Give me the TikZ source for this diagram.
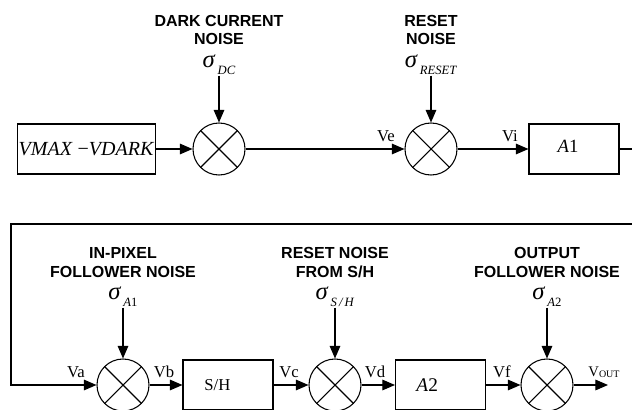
\documentclass[tikz,border=0pt]{standalone}
\usepackage{fontspec}
\setmainfont{Liberation Serif}
\setsansfont{Liberation Sans}
\usetikzlibrary{arrows.meta, positioning}

\begin{document}
\begin{tikzpicture}[x=0.75pt, y=-0.75pt, line width=0.8pt, font=\fontsize{12.5}{14}\selectfont,
    mixer/.style={draw, circle, minimum size=39pt, inner sep=0pt,
        path picture={\draw (path picture bounding box.north west) -- (path picture bounding box.south east)
            (path picture bounding box.north east) -- (path picture bounding box.south west);}},
    blk/.style={draw, minimum width=67.5pt, minimum height=37.5pt, inner sep=1pt},
    noise/.style={font=\sffamily\bfseries\fontsize{12}{14.2}\selectfont, align=center, inner sep=0pt, anchor=base},
    sig/.style={inner sep=0pt, anchor=base},
    arr/.style={-{Triangle[length=9.5pt, width=8pt]}}]
        \useasboundingbox (0,0) rectangle (632,410);
        \foreach \n/\x/\y in {mdc/219/149, mrst/431/149, mpix/123/385, msh/335/385, mout/547/385} {
            \node[mixer] (\n) at (\x,\y) {};
        }
        \foreach \n/\h/\t/\s in {mdc/61/{DARK CURRENT\\NOISE}/{\textit{DC}}, mrst/61/{RESET\\NOISE}/{\textit{RESET}},
                mpix/64/{IN-PIXEL\\FOLLOWER NOISE}/{\textit{A}1}, msh/64/{RESET NOISE\\FROM S/H}/{\textit{S\,/\,H}},
                mout/64/{OUTPUT\\FOLLOWER NOISE}/{\textit{A}2}} {
            \node[sig] (\n-s) at ([yshift=\h pt]\n.center) {{\fontsize{18.5}{19}\selectfont\textit{σ}}\hspace{1.5pt}\raisebox{-5pt}{\fontsize{9.5}{10}\selectfont\s}};
            \node[noise] (\n-t) at ([yshift={(\h+17)*1pt}]\n.center) {\t};
            \draw[arr] (\n-s.base -| \n) ++(0,8) -- (\n.north);
        }
        \node[blk, minimum width=104pt] (vin) at (86.5,149) {\fontsize{15}{17}\selectfont\textit{VMAX} −\textit{VDARK}};
        \node[blk] (a1) at (574,149) {\raisebox{4pt}{\fontsize{14}{16}\selectfont\textit{A}1}\kern9pt};
        \node[blk] (shold) at (228,385) {\fontsize{12.5}{14}\selectfont S/H\kern16pt};
        \node[blk] (a2) at (440.5,385) {\fontsize{14.5}{16}\selectfont\textit{A}2\kern20pt};
        \foreach \n/\x/\y/\t in {ve/386/136/Ve, vi/510/136/Vi, va/76/372/Va, vb/164/372/Vb,
                vc/289/372/Vc, vd/375/372/Vd, vf/502/372/Vf} {
            \node[inner sep=0pt] (\n) at (\x,\y) {\t};
        }
        \node[inner sep=0pt] (vout) at (604,372) {\fontsize{11}{12}\selectfont V\raisebox{-1pt}{\fontsize{7.5}{8}\selectfont OUT}};
        \coordinate (fbr) at (640,149);
        \coordinate (fbl) at (11,224);
        \coordinate (vo) at (608,385);
        \draw[arr] (vin) -- (mdc);
        \draw[arr] (mdc) -- (mrst);
        \draw[arr] (mrst) -- (a1);
        \draw[arr] (a1.east) -- (fbr) |- (fbl) |- (mpix.west);
        \draw[arr] (mpix) -- (shold);
        \draw[arr] (shold) -- (msh);
        \draw[arr] (msh) -- (a2);
        \draw[arr] (a2) -- (mout);
        \draw[arr] (mout.east) -- (vo);
    \end{tikzpicture}
\end{document}
